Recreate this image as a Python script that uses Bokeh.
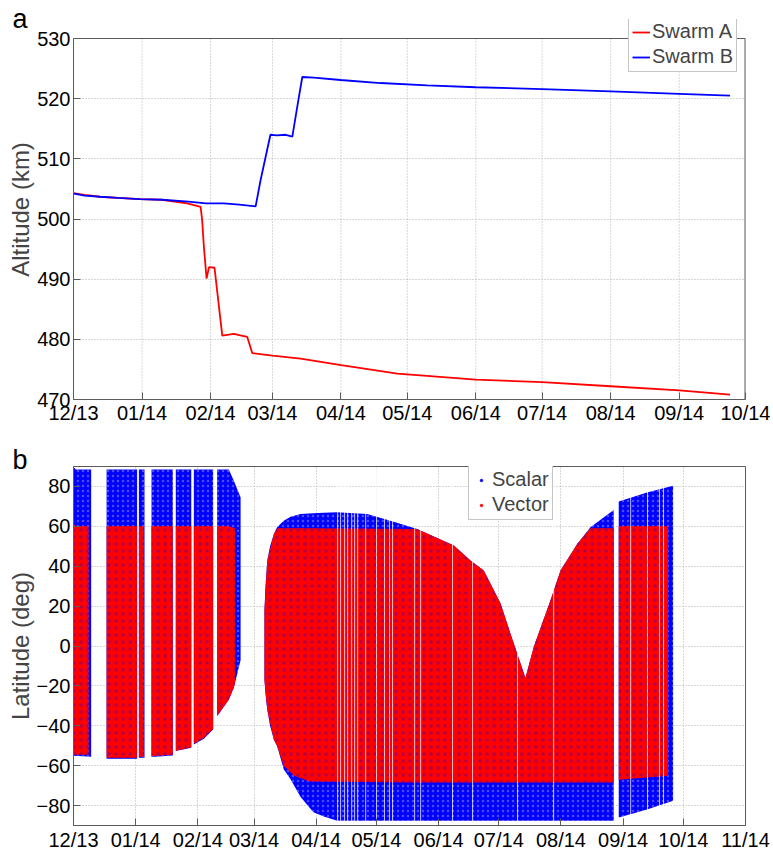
import numpy as np
import pandas as pd
from bokeh.plotting import figure
from bokeh.layouts import column
from bokeh.models import (FixedTicker, DatetimeTickFormatter, Range1d, Legend,
                          LegendItem, CDSView, IndexFilter)
from bokeh.embed import file_html
from bokeh.resources import INLINE

FONT = "Liberation Sans"
T0 = pd.Timestamp("2013-12-01")

# ---------------- tick months ----------------
month_ticks = ["2013-12-01", "2014-01-01", "2014-02-01", "2014-03-01", "2014-04-01",
               "2014-05-01", "2014-06-01", "2014-07-01", "2014-08-01", "2014-09-01",
               "2014-10-01", "2014-11-01"]

# ---------------- panel a: altitude (days since 2013-12-01) ----------------
a_day = [0, 5, 12, 20, 30, 40, 51.4, 56.7, 57.5, 58.2, 59.0, 60.2, 61.3, 63.8, 65.0,
         67.3, 72.5, 76.0, 78.6, 80.9, 90.0, 102.7, 121.1, 146.5, 182, 212, 243, 274, 297]
a_alt = [504.3, 504.0, 503.7, 503.5, 503.3, 503.2, 502.6, 502.1, 502.0, 499.8, 495.3,
         490.1, 492.0, 491.9, 488.0, 480.6, 480.9, 480.6, 480.4, 477.7, 477.3, 476.8,
         475.7, 474.3, 473.3, 472.9, 472.2, 471.5, 470.8]

b_day = [0, 2, 5, 12, 20, 30, 40, 52, 60, 68, 75, 82.4, 84.6, 86.9, 89.1, 92, 96, 99,
         101.2, 103.5, 108.7, 120.8, 138.9, 160, 182, 212, 243, 274, 297]
b_alt = [504.2, 504.1, 503.9, 503.7, 503.5, 503.3, 503.2, 502.9, 502.6, 502.6, 502.4,
         502.1, 506.4, 510.3, 514.0, 513.9, 514.0, 513.7, 518.6, 523.6, 523.5, 523.1,
         522.6, 522.2, 521.9, 521.6, 521.2, 520.8, 520.5]

# ---------------- panel b: latitude coverage envelopes ----------------
scalar_block = [1, 1, 2, 2, 3, 3, 4, 4, 5, 5, 6, 6, 6, 7, 7, 7, 7,
                8, 8, 8, 8, 8, 8, 8, 8, 8, 8, 8, 8, 8, 8, 8, 8, 8, 8, 8, 8, 8, 8, 8, 8, 8, 8, 8,
                9, 9, 9]
scalar_day = [0.0, 8.8, 16.5, 31.7, 32.6, 35.4, 38.9, 49.5, 51.0, 58.7, 60.0, 65.0, 69.6,
              71.6, 77.4, 79.9, 83.3,
              95.2, 95.7, 96.6, 98.0, 99.9, 101.5, 104.8, 108.2, 113.2, 119.6, 124.8, 131.5,
              146.4, 158.0, 171.3, 189.6, 197.9, 204.5, 212.9, 217.8, 225.3, 229.5, 237.8,
              242.8, 251.1, 257.7, 269.3,
              271.8, 285.9, 298.9]
scalar_top = [88.5, 88.5, 88.5, 88.5, 88.5, 88.5, 88.5, 88.5, 88.5, 88.5, 88.5, 88.5, 88.5,
              88.5, 88.5, 83.0, 74.5,
              18.0, 30.0, 42.9, 50.0, 56.2, 59.5, 62.8, 64.8, 66.2, 66.6, 66.8, 67.0,
              66.2, 62.8, 58.7, 50.4, 42.9, 37.9, 21.3, 6.3, -16.1, -0.3, 23.0,
              37.9, 51.2, 59.5, 68.2,
              72.5, 77.0, 80.3]
scalar_bot = [-55.0, -55.5, -56.5, -56.5, -56.0, -56.0, -55.7, -54.9, -52.7, -51.0, -49.4,
              -46.5, -41.9, -35.2, -27.0, -21.0, -7.0,
              -17.0, -24.0, -32.0, -40.0, -47.0, -50.2, -61.8, -66.8, -75.7, -83.4, -85.5,
              -87.6, -87.6, -87.6, -87.6, -87.6, -87.6, -87.6, -87.6, -87.6, -87.6, -87.6,
              -87.6, -87.6, -87.6, -87.6, -87.6,
              -86.0, -82.0, -77.6]

vector_block = [1, 1, 2, 2, 3, 3, 4, 4, 5, 5, 6, 6, 6, 7, 7, 7,
                8, 8, 8, 8, 8, 8, 8, 8, 8, 8, 8, 8, 8, 8, 8, 8, 8, 8, 8, 8,
                9, 9]
vector_day = [0.0, 7.5, 16.5, 31.7, 32.6, 35.0, 38.9, 49.5, 51.0, 58.7, 60.0, 65.0, 69.6,
              71.6, 77.4, 80.5,
              95.2, 96.6, 99.9, 101.5, 104.8, 110.0, 118.0, 171.3, 189.6, 197.9, 204.5,
              212.9, 217.8, 225.3, 229.5, 237.8, 242.8, 251.1, 257.7, 269.3,
              271.8, 296.4]
vector_top = [60.0, 60.0, 60.0, 60.0, 60.0, 60.0, 60.0, 60.0, 60.0, 60.0, 60.0, 60.0, 60.0,
              60.0, 60.0, 59.0,
              18.0, 42.9, 56.2, 59.0, 59.0, 59.0, 59.0, 58.7, 50.4, 42.9, 37.9,
              21.3, 6.3, -16.1, -0.3, 23.0, 37.9, 51.2, 59.0, 59.0,
              60.0, 60.0]
vector_bot = [-54.5, -54.5, -56.0, -56.0, -55.5, -55.5, -55.2, -54.5, -52.5, -50.8, -49.0,
              -46.0, -41.5, -35.0, -27.0, -19.0,
              -17.0, -32.0, -47.0, -50.2, -60.0, -65.0, -68.0, -68.5, -68.5, -68.5, -68.5,
              -68.5, -68.5, -68.5, -68.5, -68.5, -68.5, -68.5, -68.5, -68.5,
              -67.0, -65.0]

# thin data gaps (white stripes), days since 2013-12-01
gap_start = [131.4, 132.9, 134.9, 136.4, 138.4, 139.9, 141.4, 145.4, 150.8, 154.8, 157.3,
             158.8, 169.8, 172.8, 188.7, 198.7, 221.1, 239.1, 277.5, 285.9, 291.9, 293.9]
gap_end = [131.9, 133.4, 135.4, 136.9, 138.9, 140.4, 141.9, 145.9, 151.3, 155.3, 157.8,
           159.3, 170.3, 173.3, 189.2, 199.2, 221.6, 239.6, 278.0, 286.4, 292.4, 294.4]


def to_dt(days):
    return T0 + pd.to_timedelta(np.asarray(days, dtype=float), unit="D")


AXIS = "#5c5c5c"
GRID = "#b0b0b0"
tick_ms = [pd.Timestamp(t).value / 1e6 for t in month_ticks]
fmt = "%m/%y"


def make_fig(height, xend, y0, y1, yticks, btop, bbot, ylabel, letter, standoff):
    p = figure(width=770, height=height, x_axis_type="datetime",
               x_range=Range1d(T0, pd.Timestamp(xend)), y_range=Range1d(y0, y1),
               output_backend="svg", toolbar_location=None, title=letter,
               min_border_left=73, min_border_right=25,
               min_border_top=btop, min_border_bottom=bbot)
    p.title.text_font = FONT
    p.title.text_font_size = "27px"
    p.title.text_font_style = "normal"
    p.title.text_color = "black"
    p.title.align = "left"
    p.title.offset = -61
    p.title.standoff = standoff
    p.xaxis.ticker = FixedTicker(ticks=tick_ms)
    p.xaxis.formatter = DatetimeTickFormatter(
        microseconds=fmt, milliseconds=fmt, seconds=fmt, minsec=fmt, minutes=fmt,
        hourmin=fmt, hours=fmt, days=fmt, months=fmt, years=fmt)
    p.yaxis.ticker = FixedTicker(ticks=yticks)
    for ax in p.axis:
        ax.axis_line_color = AXIS
        ax.major_tick_line_color = AXIS
        ax.major_tick_in = 7
        ax.major_tick_out = 0
        ax.minor_tick_line_color = None
        ax.major_label_text_font = FONT
        ax.major_label_text_font_size = "20px"
        ax.major_label_text_color = "black"
    p.xaxis.major_label_standoff = 2
    p.yaxis.major_label_standoff = 3
    p.yaxis.axis_label = ylabel
    p.yaxis.axis_label_text_font = FONT
    p.yaxis.axis_label_text_font_size = "24px"
    p.yaxis.axis_label_text_font_style = "normal"
    p.yaxis.axis_label_standoff = 0
    p.grid.grid_line_color = GRID
    p.grid.grid_line_dash = "1 2"
    p.grid.grid_line_width = 1
    p.outline_line_color = AXIS
    p.outline_line_alpha = 1
    p.background_fill_color = "white"
    p.border_fill_color = "white"
    return p


def make_legend(items, loc, glyph_h):
    return Legend(items=items, location=loc, label_text_font=FONT,
                  label_text_font_size="20px", glyph_width=18, glyph_height=glyph_h,
                  label_height=22, label_standoff=2, padding=3, spacing=2, margin=0,
                  border_line_color="#8c8c8c", border_line_width=1,
                  background_fill_alpha=1)


# ---------------- panel a ----------------
A_LO, A_HI = 470, 530
A_XEND = pd.Timestamp("2014-10-01")
# the frame reaches 19px above the axes box so the legend can overlap the box edge
a_frame_top = A_HI + 19 * (A_HI - A_LO) / 361
p1 = make_fig(428, A_XEND, A_LO, a_frame_top, [470, 480, 490, 500, 510, 520, 530], 19, 29,
              "Altitude (km)", "a", -29)
p1.outline_line_color = None
p1.xgrid.visible = False
p1.yaxis.bounds = (A_LO, A_HI)
a_ticks = pd.to_datetime([t for t in month_ticks if pd.Timestamp(t) <= A_XEND])
p1.segment(x0=a_ticks, y0=A_LO, x1=a_ticks, y1=A_HI, line_color=GRID, line_dash="1 2",
           line_width=1)
p1.segment(x0=[T0], y0=[A_HI], x1=[A_XEND], y1=[A_HI], line_color=AXIS, line_width=1)
p1.segment(x0=[A_XEND], y0=[A_LO], x1=[A_XEND], y1=[A_HI], line_color=AXIS, line_width=2)

ra = p1.line(to_dt(a_day), a_alt, line_color="#ff0000", line_width=1.8)
rb = p1.line(to_dt(b_day), b_alt, line_color="#0000ff", line_width=1.8)
p1.add_layout(make_legend([LegendItem(label="Swarm A", renderers=[ra]),
                           LegendItem(label="Swarm B", renderers=[rb])], (555, 327), 22))

# ---------------- panel b ----------------
p2 = make_fig(425, "2014-11-01", -90, 90, [-80, -60, -40, -20, 0, 20, 40, 60, 80], 38, 26,
              "Latitude (deg)", "b", -16)
p2.xaxis.major_label_standoff = 3

sdf = pd.DataFrame(dict(block=scalar_block, day=scalar_day, top=scalar_top, bot=scalar_bot))
vdf = pd.DataFrame(dict(block=vector_block, day=vector_day, top=vector_top, bot=vector_bot))
for _, g in sdf.groupby("block"):
    p2.varea(x=to_dt(g["day"]), y1=g["bot"].values, y2=g["top"].values,
             fill_color="#0000ff", hatch_pattern="dot", hatch_color="white",
             hatch_scale=5, hatch_weight=1, hatch_alpha=0.3)
for _, g in vdf.groupby("block"):
    p2.varea(x=to_dt(g["day"]), y1=g["bot"].values, y2=g["top"].values,
             fill_color="#ff0000", hatch_pattern="dot", hatch_color="#0000ff",
             hatch_scale=7, hatch_weight=1, hatch_alpha=0.3)
p2.quad(left=to_dt(gap_start), right=to_dt(gap_end), bottom=-89.5, top=89.5,
        fill_color="white", fill_alpha=0.75, line_color=None)

# marker renderers for the legend: only the first envelope sample is shown
rs = p2.scatter(x=to_dt(scalar_day), y=scalar_top, marker="circle", size=3,
                fill_color="#0000ff", line_color="#0000ff",
                view=CDSView(filter=IndexFilter([0])))
rv = p2.scatter(x=to_dt(vector_day), y=vector_top, marker="circle", size=3,
                fill_color="#ff0000", line_color="#ff0000",
                view=CDSView(filter=IndexFilter([0])))
p2.add_layout(make_legend([LegendItem(label="Scalar", renderers=[rs]),
                           LegendItem(label="Vector", renderers=[rv])], (395, 305), 6))

layout = column(p1, p2, spacing=0,
                styles={"position": "absolute", "top": "0px", "left": "0px"})
open("out.html", "w").write(file_html(layout, INLINE))
